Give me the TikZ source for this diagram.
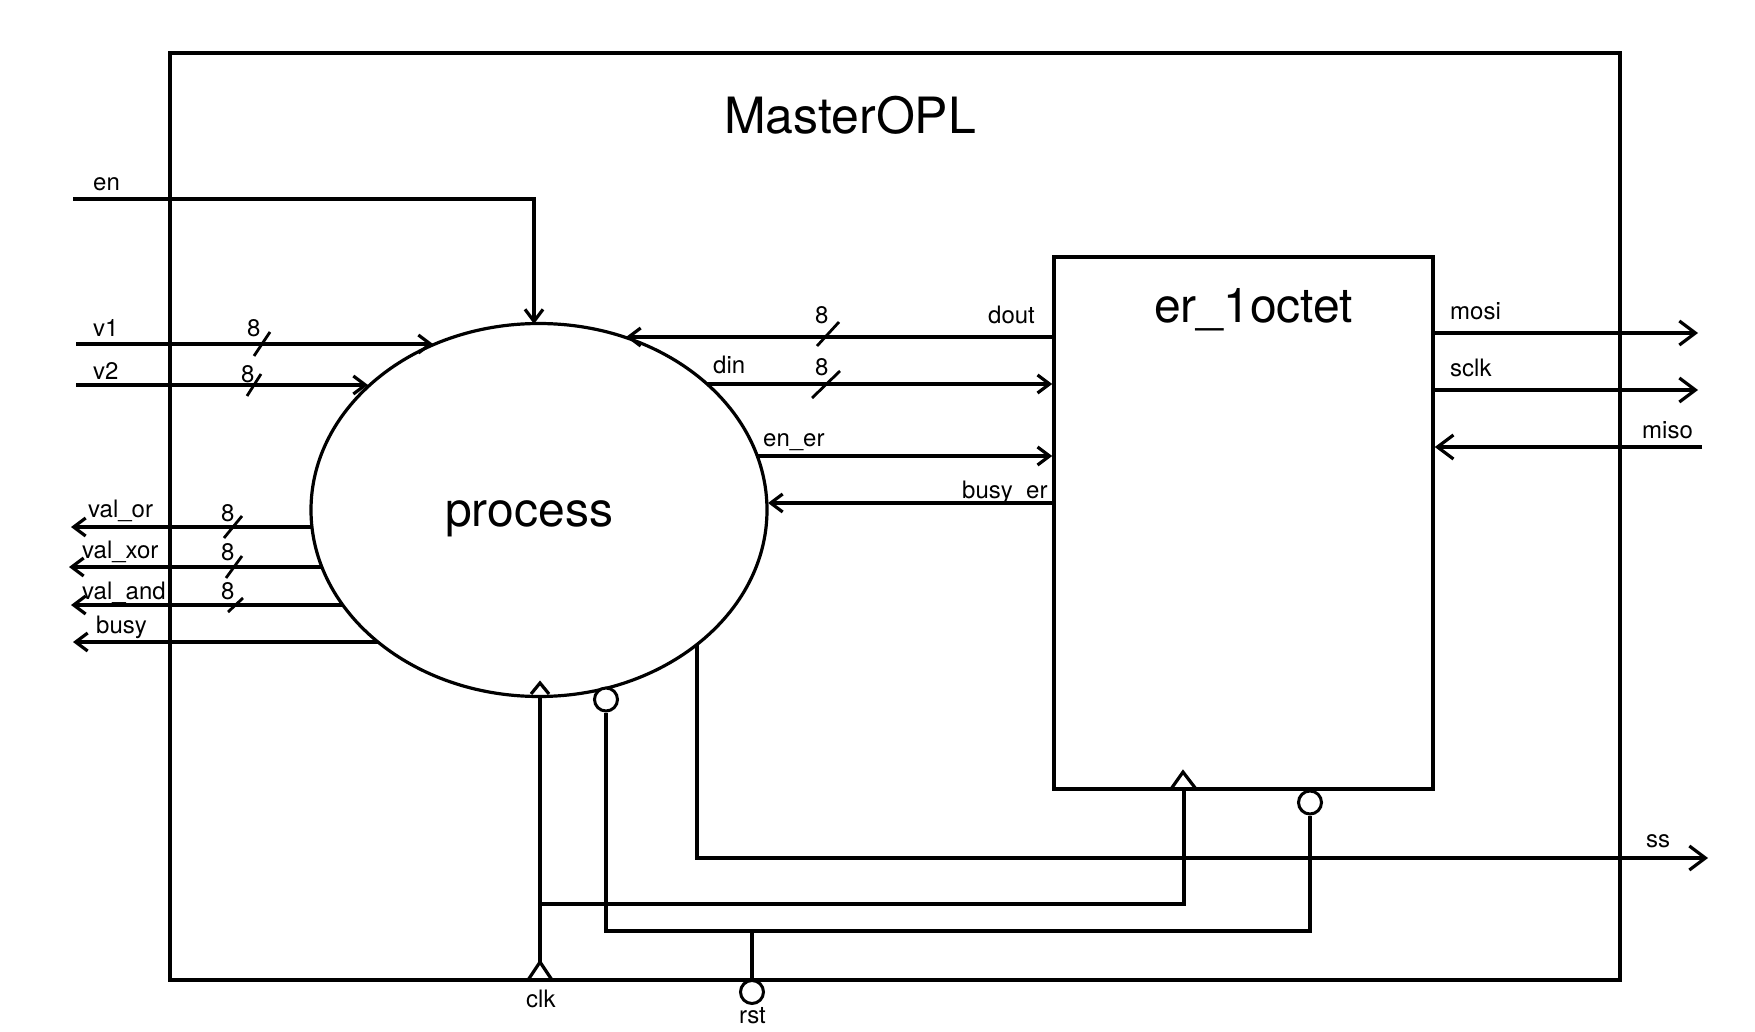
\documentclass[tikz,border=0pt]{standalone}
\usepackage{fontspec}
\setmainfont{TeX Gyre Heros}
\usetikzlibrary{arrows.meta,shapes.geometric}
\begin{document}
\begin{tikzpicture}[x=1pt,y=-1pt,
  wire/.style={line width=3.2pt},
  box/.style={draw,line width=3.6pt,inner sep=0pt},
  arr/.style={wire,-{Straight Barb[length=12pt,width=18pt]}},
  bigarr/.style={wire,-{Straight Barb[length=16pt,width=24pt]}},
  lbl/.style={font=\fontsize{24}{28}\selectfont,inner sep=0pt,anchor=base west},
  big/.style={font=\fontsize{48}{56}\selectfont,inner sep=0pt,anchor=base west},
  bus/.style={line width=2.8pt},
  bubble/.style={circle,draw,fill=white,line width=3pt,minimum size=23pt,inner sep=0pt},
  clktri/.style={wire,line join=miter}
]
\fill[white] (0,0) rectangle (1755,1032);
\useasboundingbox (0,0) rectangle (1755,1032);

% blocks
\node[box,minimum width=1450pt,minimum height=927pt] (top) at (895,516.5) {};
\node[big,font=\fontsize{50}{58}\selectfont] (title) at (724,134) {MasterOPL};
\node[box,ellipse,line width=3.2pt,minimum width=456pt,minimum height=373pt] (proc) at (539,510) {};
\node[big] (proclbl) at (445,526) {process};
\node[box,minimum width=379pt,minimum height=532pt] (er) at (1243.5,523) {};
\node[big] (erlbl) at (1154,322) {er\_1octet};

% points on the process border and free ends
\coordinate (enIn) at (73,199);   \coordinate (pEn) at (534,324);
\coordinate (v1In) at (76,344);   \coordinate (pV1) at (433,344);
\coordinate (v2In) at (76,385);   \coordinate (pV2) at (368,385);
\coordinate (orOut) at (71,527);  \coordinate (pOr) at (312,527);
\coordinate (xorOut) at (69,567); \coordinate (pXor) at (322,567);
\coordinate (andOut) at (71,605); \coordinate (pAnd) at (343,605);
\coordinate (busyOut) at (73,642);\coordinate (pBusy) at (378,642);
\coordinate (pDout) at (626,337);
\coordinate (pDin) at (707,384);
\coordinate (pEnEr) at (757,456);
\coordinate (pBusyEr) at (768,503);
\coordinate (mosiOut) at (1698,333);
\coordinate (sclkOut) at (1698,390);
\coordinate (misoIn) at (1702,447);
\coordinate (pSs) at (697,644);
\coordinate (ssOut) at (1708,858);

% inputs / outputs of process
\draw[arr] (enIn) -| (pEn);
\draw[arr] (v1In) -- (pV1);
\draw[arr] (v2In) -- (pV2);
\draw[arr] (pOr) -- (orOut);
\draw[arr] (pXor) -- (xorOut);
\draw[arr] (pAnd) -- (andOut);
\draw[arr] (pBusy) -- (busyOut);

% process <-> er_1octet
\draw[arr] (er.west |- pDout) -- (pDout);
\draw[arr] (pDin) -- (er.west |- pDin);
\draw[arr] (pEnEr) -- (er.west |- pEnEr);
\draw[arr] (er.west |- pBusyEr) -- (pBusyEr);

% er_1octet outputs
\draw[bigarr] (er.east |- mosiOut) -- (mosiOut);
\draw[bigarr] (er.east |- sclkOut) -- (sclkOut);
\draw[bigarr] (misoIn) -- (er.east |- misoIn);
\draw[bigarr] (pSs) |- (ssOut);

% bus slashes
\draw[bus] (254,356) -- (270,332);
\draw[bus] (247,396) -- (261,374);
\draw[bus] (224,538) -- (242,516);
\draw[bus] (226,578) -- (242,556);
\draw[bus] (228,612) -- (243,598);
\draw[bus] (817,346) -- (839,322);
\draw[bus] (812,398) -- (840,371);

% clock
\coordinate (clkIn) at (540,962);
\coordinate (clkJ) at (540,904);
\coordinate (erClk) at (1184,789);
\draw[wire] (clkIn) -- (clkIn |- proc.south);
\draw[wire] (clkJ) -| (erClk);
\draw[clktri] (528,980) -- (540,962) -- (552,980);
\draw[clktri] (531,694) -- (540,683) -- (549,694);
\draw[clktri] (1171,789) -- (1183,772) -- (1196,789);

% reset
\node[bubble] (rstPin) at (752,992) {};
\node[bubble] (pRst) at (606,699.5) {};
\node[bubble] (erRst) at (1310,802.5) {};
\coordinate (rstJ) at (752,931);
\draw[wire] (rstPin.north) -- (rstJ);
\draw[wire] (pRst.south) |- (rstJ) -| (erRst.south);

% labels
\node[lbl] (len) at (93,191) {en};
\node[lbl] (lv1) at (93,336) {v1};
\node[lbl] (lv2) at (93,379) {v2};
\node[lbl] (n1) at (247,336) {8};
\node[lbl] (n2) at (241,382) {8};
\node[lbl] (lor) at (88,517) {val\_or};
\node[lbl] (lxor) at (82,558) {val\_xor};
\node[lbl] (land) at (82,599) {val\_and};
\node[lbl] (lbusy) at (96,633) {busy};
\node[lbl] (n3) at (221,521) {8};
\node[lbl] (n4) at (221,560) {8};
\node[lbl] (n5) at (221,599) {8};
\node[lbl] (ldout) at (988,323) {dout};
\node[lbl] (n6) at (815,323) {8};
\node[lbl] (ldin) at (713,373) {din};
\node[lbl] (n7) at (815,375) {8};
\node[lbl] (lener) at (763,446) {en\_er};
\node[lbl] (lbusyer) at (962,498) {busy\_er};
\node[lbl] (lmosi) at (1450,319) {mosi};
\node[lbl] (lsclk) at (1450,376) {sclk};
\node[lbl] (lmiso) at (1642,438) {miso};
\node[lbl] (lss) at (1646,847) {ss};
\node[lbl] (lclk) at (526,1007) {clk};
\node[lbl] (lrst) at (739,1023) {rst};
\end{tikzpicture}
\end{document}
